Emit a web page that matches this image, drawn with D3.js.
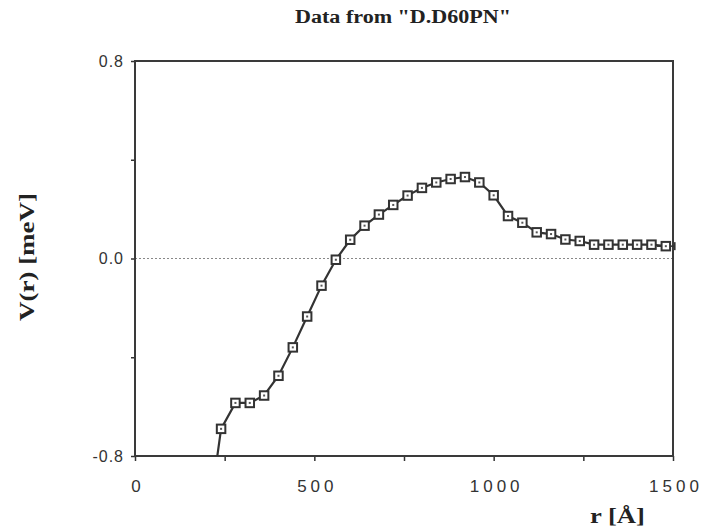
<!DOCTYPE html>
<html>
<head>
<meta charset="utf-8">
<script src="https://cdn.jsdelivr.net/npm/d3@7"></script>
<style>
  body { margin: 0; background: #fff; }
  .tick-label { font-family: "Liberation Sans", Arial, sans-serif; fill: #333; }
  .serif { font-family: "Liberation Serif", "Times New Roman", serif; font-weight: bold; fill: #222; }
</style>
</head>
<body>
<div id="chart"></div>
<script>
// r in Angstrom, V(r) in meV (first point lies below the frame and is clipped)
const rValues = [200, 240, 280, 320, 360, 400, 440, 480, 520, 560, 600, 640, 680, 720, 760, 800,
  840, 880, 920, 960, 1000, 1040, 1080, 1120, 1160, 1200, 1240, 1280, 1320, 1360, 1400, 1440, 1480];
const vValues = [-1.11, -0.69, -0.585, -0.585, -0.555, -0.475, -0.36, -0.235, -0.11, -0.005, 0.076, 0.133,
  0.178, 0.217, 0.255, 0.286, 0.308, 0.322, 0.33, 0.308, 0.256, 0.172, 0.145, 0.106, 0.099, 0.077,
  0.071, 0.056, 0.056, 0.056, 0.056, 0.056, 0.05];
const xTicks = [0, 250, 500, 750, 1000, 1250, 1500];
const xTickLabels = [0, 500, 1000, 1500];
const yTicks = [-0.8, -0.4, 0, 0.4, 0.8];
const yTickLabels = ['-0.8', '0.0', '0.8'];
const lastErr = 25; // horizontal error bar half-width on last point

const config = {
  width: 704, height: 532,
  margin: {top: 61, right: 31, bottom: 76, left: 135},
  xLabelSpacing: 4
};

const innerW = config.width - config.margin.left - config.margin.right;
const innerH = config.height - config.margin.top - config.margin.bottom;

const svg = d3.select('#chart').append('svg')
    .attr('width', config.width)
    .attr('height', config.height);

const g = svg.append('g')
    .attr('transform', `translate(${config.margin.left},${config.margin.top})`);

const x = d3.scaleLinear().domain([0, 1500]).range([0, innerW]);
const y = d3.scaleLinear().domain([-0.8, 0.8]).range([innerH, 0]);

svg.append('defs').append('clipPath').attr('id', 'plot-clip')
  .append('rect').attr('width', innerW).attr('height', innerH);

// zero line
g.append('line')
    .attr('x1', 0).attr('x2', innerW)
    .attr('y1', y(0)).attr('y2', y(0))
    .attr('stroke', '#888').attr('stroke-width', 1.2)
    .attr('stroke-dasharray', '2,2');

// axes, ticks only
const xAxis = g.append('g')
    .attr('transform', `translate(0,${innerH})`)
    .call(d3.axisBottom(x).tickValues(xTicks).tickSize(5).tickFormat(''));
const yAxis = g.append('g')
    .call(d3.axisLeft(y).tickValues(yTicks).tickSize(4).tickFormat(''));
[xAxis, yAxis].forEach(a => {
  a.select('.domain').remove();
  a.selectAll('line').attr('stroke', '#333').attr('stroke-width', 1.5);
});

// frame
g.append('rect')
    .attr('width', innerW).attr('height', innerH)
    .attr('fill', 'none').attr('stroke', '#3a3a3a').attr('stroke-width', 2);

// tick labels
g.selectAll('.xlab')
    .data(xTickLabels)
  .join('text')
    .attr('class', 'tick-label')
    .attr('font-size', 17)
    .attr('letter-spacing', config.xLabelSpacing)
    .attr('text-anchor', 'middle')
    .attr('x', d => x(d) + 1 + config.xLabelSpacing / 2)
    .attr('y', innerH + 36)
    .text(d => d);

g.selectAll('.ylab')
    .data(yTickLabels)
  .join('text')
    .attr('class', 'tick-label')
    .attr('font-size', 16)
    .attr('letter-spacing', 1)
    .attr('text-anchor', 'end')
    .attr('x', -11)
    .attr('y', d => y(+d))
    .attr('dy', '0.36em')
    .text(d => d);

const points = rValues.map((r, i) => ({r, v: vValues[i]}));

const plot = g.append('g').attr('clip-path', 'url(#plot-clip)');

plot.append('path')
    .datum(points)
    .attr('fill', 'none')
    .attr('stroke', '#333')
    .attr('stroke-width', 2.2)
    .attr('d', d3.line().x(d => x(d.r)).y(d => y(d.v)));

// error bar on the last point
const last = points[points.length - 1];
const eb = g.append('g').attr('stroke', '#333').attr('stroke-width', 1.6);
eb.append('line')
    .attr('x1', x(last.r - lastErr)).attr('x2', x(last.r + lastErr))
    .attr('y1', y(last.v)).attr('y2', y(last.v));
eb.append('line')
    .attr('x1', x(last.r + lastErr)).attr('x2', x(last.r + lastErr))
    .attr('y1', y(last.v) - 4).attr('y2', y(last.v) + 4);

// square markers
const vis = points.filter(d => d.v >= -0.8);
const sq = 8.5;
g.selectAll('.marker')
    .data(vis)
  .join('rect')
    .attr('x', d => x(d.r) - sq / 2)
    .attr('y', d => y(d.v) - sq / 2)
    .attr('width', sq).attr('height', sq)
    .attr('fill', '#fff').attr('stroke', '#333').attr('stroke-width', 2);
g.selectAll('.dot')
    .data(vis)
  .join('rect')
    .attr('x', d => x(d.r) - 1)
    .attr('y', d => y(d.v) - 1)
    .attr('width', 2).attr('height', 2)
    .attr('fill', '#555');

// titles
svg.append('text')
    .attr('class', 'serif')
    .attr('x', 403).attr('y', 23)
    .attr('text-anchor', 'middle')
    .attr('font-size', 18)
    .attr('textLength', 216)
    .attr('lengthAdjust', 'spacingAndGlyphs')
    .text('Data from "D.D60PN"');

svg.append('text')
    .attr('class', 'serif')
    .attr('transform', 'translate(34,257) rotate(-90)')
    .attr('text-anchor', 'middle')
    .attr('font-size', 21)
    .attr('textLength', 128)
    .attr('lengthAdjust', 'spacingAndGlyphs')
    .text('V(r) [meV]');

svg.append('text')
    .attr('class', 'serif')
    .attr('x', 590).attr('y', 523)
    .attr('font-size', 22)
    .attr('textLength', 55)
    .attr('lengthAdjust', 'spacingAndGlyphs')
    .text('r [Å]');
</script>
</body>
</html>
